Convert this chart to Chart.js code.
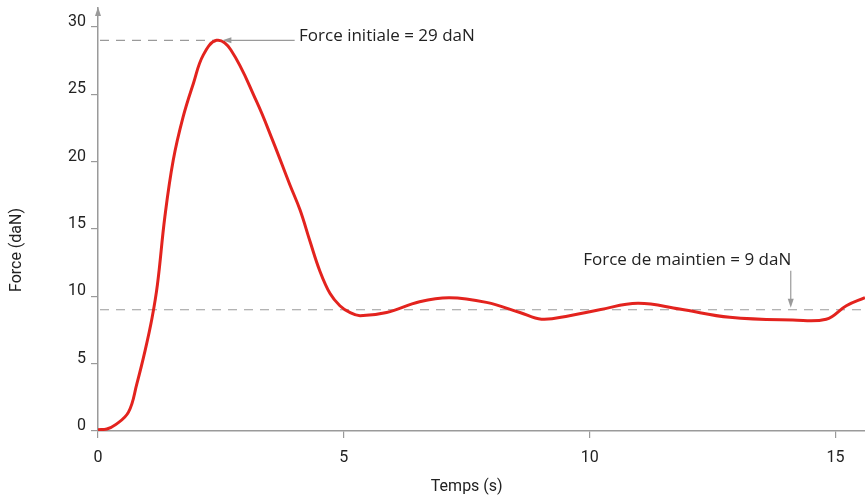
<!DOCTYPE html>
<html lang="fr">
<head>
<meta charset="utf-8">
<script src="https://cdn.jsdelivr.net/npm/chart.js@4/dist/chart.umd.min.js"></script>
<style>
  html, body { margin: 0; padding: 0; background: #ffffff; }
  #wrap { width: 865px; height: 497px; position: relative; }
</style>
</head>
<body>
<div id="wrap"><canvas id="c" width="865" height="497"></canvas></div>
<script>
// Force mesurée au cours du temps
const temps = [0, 0.18, 0.35, 0.62, 0.79, 0.96, 1.10, 1.21, 1.36, 1.53, 1.73, 1.94, 2.14, 2.41,
  2.70, 3.22, 3.56, 3.90, 4.11, 4.31, 4.51, 4.72, 4.92, 5.12, 5.33, 5.87, 6.54, 7.15, 7.90,
  8.58, 9.02, 9.59, 10.2, 10.98, 11.83, 12.85, 14.13, 14.81, 15.22, 15.6];
const force = [0.1, 0.15, 0.45, 1.4, 3.5, 6.0, 8.4, 10.9, 15.9, 20.1, 23.3, 25.8, 27.9, 29.0,
  28.3, 24.5, 21.5, 18.3, 16.4, 14.1, 11.9, 10.2, 9.3, 8.8, 8.56, 8.8, 9.6, 9.9, 9.55,
  8.8, 8.3, 8.56, 9.0, 9.48, 9.05, 8.44, 8.24, 8.3, 9.3, 9.9];

// Graduations des axes
const ticksTemps = [0, 5, 10, 15];
const ticksForce = [0, 5, 10, 15, 20, 25, 30];

// Valeurs remarquables
const forceInitiale = 29;
const tempsInitiale = 2.41;
const forceMaintien = 9;
const labelInitiale = 'Force initiale = 29 daN';
const labelMaintien = 'Force de maintien = 9 daN';

const FONT = 'Roboto, "Liberation Sans", sans-serif';
const FONT_NOTE = '"Open Sans", Roboto, sans-serif';
const GREY = '#9a9a9a';
const TEXT = '#222222';

function arrowHead(ctx, x, y, dir, len, half) {
  // dir: angle in radians pointing from the tail towards the tip
  ctx.save();
  ctx.translate(x, y);
  ctx.rotate(dir);
  ctx.beginPath();
  ctx.moveTo(0, 0);
  ctx.lineTo(-len, -half);
  ctx.lineTo(-len, half);
  ctx.closePath();
  ctx.fill();
  ctx.restore();
}

const annotations = {
  id: 'annotations',
  beforeDatasetsDraw(chart) {
    const { ctx, scales: { x, y }, chartArea } = chart;
    ctx.save();
    ctx.strokeStyle = GREY;
    ctx.lineWidth = 1.2;
    ctx.setLineDash([9, 7]);
    // reference line for the initial force
    ctx.beginPath();
    ctx.moveTo(x.getPixelForValue(0) + 2, y.getPixelForValue(forceInitiale));
    ctx.lineTo(x.getPixelForValue(tempsInitiale), y.getPixelForValue(forceInitiale));
    ctx.stroke();
    // reference line for the holding force
    ctx.beginPath();
    ctx.moveTo(x.getPixelForValue(0) + 2, y.getPixelForValue(forceMaintien));
    ctx.lineTo(chartArea.right, y.getPixelForValue(forceMaintien));
    ctx.stroke();
    ctx.restore();
  },
  afterDatasetsDraw(chart) {
    const { ctx, scales: { x, y }, chartArea } = chart;
    ctx.save();
    ctx.strokeStyle = GREY;
    ctx.fillStyle = GREY;
    ctx.lineWidth = 1.2;

    // y axis arrow
    const ax = chartArea.left;
    arrowHead(ctx, ax, chartArea.top - 1, -Math.PI / 2, 9, 3);

    // initial force pointer
    const yi = y.getPixelForValue(forceInitiale);
    const tipX = x.getPixelForValue(tempsInitiale + 0.12);
    const tailX = x.getPixelForValue(4.0);
    ctx.beginPath();
    ctx.moveTo(tailX, yi);
    ctx.lineTo(tipX + 6, yi);
    ctx.stroke();
    arrowHead(ctx, tipX, yi, Math.PI, 9, 3);

    // holding force pointer
    const xm = x.getPixelForValue(14.09);
    const ym = y.getPixelForValue(forceMaintien);
    const ytop = y.getPixelForValue(11.9);
    ctx.beginPath();
    ctx.moveTo(xm, ytop);
    ctx.lineTo(xm, ym - 6);
    ctx.stroke();
    arrowHead(ctx, xm, ym - 2, Math.PI / 2, 9, 3);

    // labels
    ctx.fillStyle = TEXT;
    ctx.font = '17px ' + FONT_NOTE;
    ctx.textBaseline = 'alphabetic';
    ctx.textAlign = 'left';
    ctx.fillText(labelInitiale, x.getPixelForValue(4.09), yi + 0.5);
    ctx.textAlign = 'right';
    ctx.fillText(labelMaintien, x.getPixelForValue(14.1), y.getPixelForValue(12.3));

    // axis titles
    ctx.font = '16px ' + FONT;
    ctx.textAlign = 'center';
    ctx.textBaseline = 'middle';
    ctx.fillText('Temps (s)', (x.getPixelForValue(0) + x.getPixelForValue(15)) / 2, 487);
    ctx.translate(17, 250);
    ctx.rotate(-Math.PI / 2);
    ctx.fillText('Force (daN)', 0, 0);
    ctx.restore();
  }
};

const points = temps.map((t, i) => ({ x: t, y: force[i] }));

new Chart(document.getElementById('c'), {
  type: 'line',
  data: {
    datasets: [{
      data: points,
      borderColor: '#e3231e',
      borderWidth: 3,
      pointRadius: 0,
      fill: false,
      tension: 0.4
    }]
  },
  options: {
    responsive: false,
    animation: false,
    events: [],
    layout: { padding: { top: 8, right: 0, left: 0, bottom: 0 } },
    plugins: { legend: { display: false }, tooltip: { enabled: false } },
    scales: {
      x: {
        type: 'linear',
        min: 0,
        max: 15.6,
        afterBuildTicks: s => { s.ticks = ticksTemps.map(v => ({ value: v })); },
        afterFit: s => { s.height = 66; s.paddingLeft = 0; s.paddingRight = 0; },
        ticks: { color: TEXT, font: { family: FONT, size: 16 }, padding: 10, maxRotation: 0, autoSkip: false },
        grid: { drawOnChartArea: false, drawTicks: true, tickLength: 7, color: GREY, lineWidth: 1.2 },
        border: { color: GREY, width: 1.5 }
      },
      y: {
        min: 0,
        max: 31.4,
        afterBuildTicks: s => { s.ticks = ticksForce.map(v => ({ value: v })); },
        afterFit: s => { s.width = 98; s.paddingTop = 0; s.paddingBottom = 0; },
        ticks: { color: TEXT, font: { family: FONT, size: 16 }, padding: 5, labelOffset: -5 },
        grid: { drawOnChartArea: false, drawTicks: true, tickLength: 7, color: GREY, lineWidth: 1.2 },
        border: { color: GREY, width: 1.5 }
      }
    }
  },
  plugins: [annotations]
});
</script>
</body>
</html>
